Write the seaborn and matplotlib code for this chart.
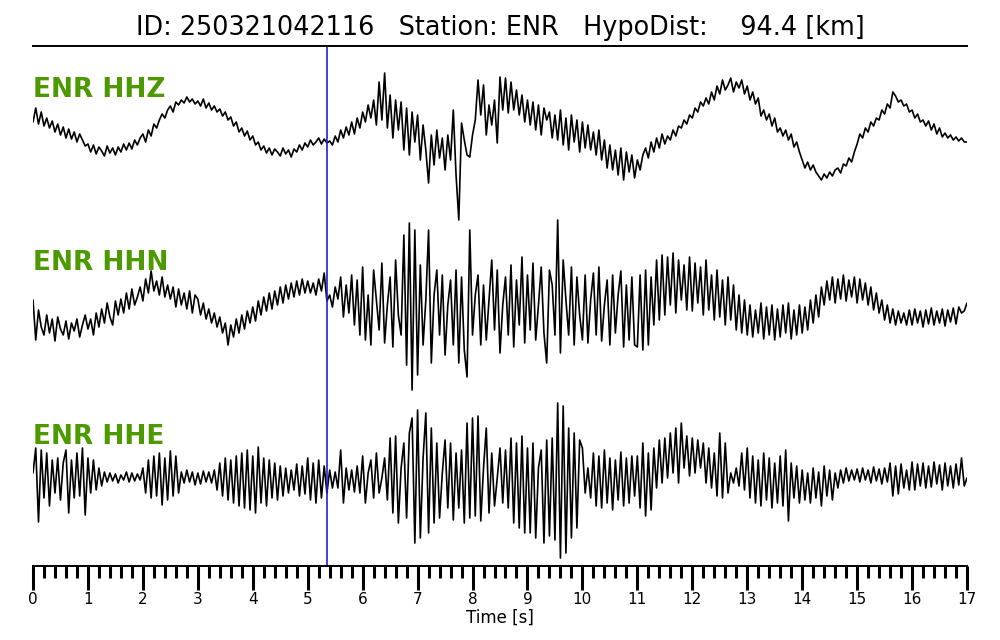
import numpy as np
import matplotlib
matplotlib.use("Agg")
import matplotlib.pyplot as plt
from matplotlib.ticker import MultipleLocator
import seaborn as sns

# event header
event_id = "250321042116"
station = "ENR"
hypo_dist = 94.4
p_pick = 5.35  # s
dt = 0.05  # sample interval [s]

channels = ["HHZ", "HHN", "HHE"]

# amplitudes (screen units, up positive), one row per second
hhz = [
    8, 22, 6, 18, 4, 12, 2, 9, -2, 6, -5, 3, -8, 1, -9, -2, -12, -4, -10, -16,
    -14, -22, -15, -24, -17, -21, -26, -16, -23, -18, -25, -17, -22, -14, -20, -13, -19, -10, -15, -8,
    -4, -12, 0, -6, 6, 2, 10, 16, 12, 20, 24, 18, 28, 25, 30, 27, 33, 28, 31, 26,
    29, 24, 31, 22, 27, 20, 24, 18, 21, 14, 18, 10, 13, 4, 8, -2, 2, -6, -1, -10,
    -6, -15, -12, -20, -16, -23, -18, -25, -19, -22, -26, -18, -24, -20, -27, -19, -22, -15, -20, -13,
    -17, -10, -15, -12, -8, -14, -9, -13, -11, -15, -6, -12, 0, -8, 3, -5, 8, -4, 12, 2,
    18, 8, 25, 12, 30, 5, 48, 10, 57, 2, 35, -8, 30, 0, 28, -20, 22, -25, 18, -12,
    15, -30, 5, -20, -53, -5, -35, 0, -28, -8, -40, -5, -30, 20, -45, -90, 7, -10, -25, -27,
    -5, 10, 50, 15, 45, -5, 25, 5, 30, -13, 53, 20, 52, 17, 48, 20, 40, 15, 35, 8,
    30, 5, 28, 0, 25, -5, 22, 10, 18, -8, 15, -10, 20, -15, 12, -20, 15, -12, 10, -22,
    8, -18, 5, -20, -2, -25, 0, -30, -10, -38, -15, -40, -20, -45, -18, -50, -22, -42, -25, -48,
    -30, -40, -25, -18, -28, -12, -22, -8, -18, -4, -14, -6, -10, 0, -6, 4, 2, 10, 6, 15,
    12, 22, 18, 28, 24, 32, 26, 38, 30, 44, 36, 50, 40, 45, 52, 38, 48, 42, 50, 36,
    44, 30, 38, 26, 32, 14, 20, 10, 16, 4, 12, -2, 2, -6, 0, -10, -4, -17, -12, -22,
    -30, -38, -32, -40, -35, -42, -46, -50, -44, -48, -42, -46, -40, -38, -43, -34, -36, -28, -32, -22,
    -14, -4, -8, 2, -2, 8, 4, 12, 10, 20, 16, 26, 22, 38, 34, 28, 30, 24, 26, 18,
    20, 12, 16, 8, 10, 4, 9, 0, 6, -4, 2, -7, -3, -8, -5, -10, -7, -11, -8, -12,
    -12,
]

hhn = [
    5, -35, -5, -22, -30, -10, -28, -14, -36, -12, -24, -30, -16, -34, -18, -26, -14, -32, -20, -10,
    -24, -14, -30, -8, -22, -4, -18, 2, -12, -20, 4, -10, 6, -8, 12, -4, 16, 0, 8, 18,
    4, 26, 12, 34, 14, 24, 10, 28, 8, 20, 6, 18, -2, 16, 0, 12, -4, 14, -8, 10,
    6, -10, 2, -14, -4, -18, -8, -22, -12, -28, -18, -40, -20, -32, -14, -28, -10, -24, -6, -18,
    -2, -16, 4, -10, 8, -6, 12, -4, 14, 0, 18, 2, 20, 6, 22, 8, 24, 10, 26, 12,
    24, 12, 22, 10, 26, 14, 32, 4, 10, -2, 18, 6, 28, -12, 20, -8, 30, -20, 25, -30,
    38, -35, 10, -40, 35, 5, -25, 42, -38, 0, 28, -42, 45, -10, -30, 70, -60, 82, -85, 75,
    -70, 40, -40, 5, 75, -58, 10, 35, -30, 30, -50, 0, 25, -40, 35, -58, 28, -45, -72, 75,
    -30, 10, 30, -40, 20, -35, 5, 45, -25, 35, -48, 0, 28, -30, 40, -42, 25, -20, 48, -38,
    30, -25, 42, -35, 0, 38, -28, -58, 35, 20, -30, 85, -48, 45, 5, -30, 38, -40, 28, -10,
    -35, 30, -38, 5, 32, -30, 38, -36, 0, 25, -40, 30, -28, 10, 34, -42, 20, -35, 28, -40,
    -42, 30, -45, 35, -40, 28, -20, 45, -15, 50, -10, 48, 0, 52, -8, 45, 5, 40, -5, 48,
    -6, 42, 2, 38, -10, 45, -5, 30, -15, 35, -12, 25, -20, 28, -15, 20, -25, 10, -28, 5,
    -30, 0, -32, -5, -28, 2, -34, -2, -30, 0, -35, -4, -32, 0, -28, 2, -34, -5, -30, 0,
    -28, -2, -25, 5, -18, 10, -12, 18, 0, 24, 5, 28, 2, 26, 6, 30, 4, 25, 8, 28,
    2, 26, 5, 22, 0, 18, -5, 12, -8, 5, -15, 0, -18, -4, -20, -6, -18, -8, -20, -5,
    -20, -4, -18, -6, -22, -5, -19, -3, -20, -6, -18, -4, -21, -5, -17, -3, -19, -2, -8, -6,
    2,
]

hhe = [
    5, 30, -44, 28, -20, 25, -28, 18, -15, 20, -22, 15, 28, -35, 18, -20, 25, -18, 30, -37,
    20, -15, 18, -12, 10, -8, 6, -4, 5, -3, 4, -5, 3, -2, 6, -4, 5, -3, 4, -2,
    10, -15, 18, -20, 22, -18, 25, -27, 20, -22, 27, -18, 22, -15, 6, -5, 8, -4, 6, -7,
    5, -6, 7, -4, 6, -5, 8, -12, 15, -18, 20, -22, 18, -25, 22, -28, 25, -30, 28, -32,
    22, -35, 31, -25, 20, -28, 18, -20, 15, -22, 12, -18, 10, -15, 8, -12, 14, -18, 12, -16,
    20, -22, 15, -25, 18, -20, 12, -15, 8, -10, 6, -10, 28, -25, 10, -12, 8, -14, 12, -15,
    22, -25, 5, 18, -20, 25, -15, 0, 20, -22, 40, -35, 42, -45, 10, 35, -40, 45, 60, -65,
    68, -60, 20, 65, -55, 50, -45, 35, -40, 5, 38, -30, 35, -42, 25, -30, 28, -45, 55, -40,
    60, -38, 62, -43, 10, 50, -35, 25, -28, 0, 30, -25, 28, -30, 40, -45, 35, -50, 42, -55,
    30, -55, 35, -60, 10, 28, -65, 38, -58, 40, -62, 75, -80, 72, -75, 50, -60, 45, -50, 38,
    30, -15, 10, -20, 25, -28, 22, -30, 28, -25, 20, -32, 18, -22, 26, -28, 20, -25, 22, -18,
    22, -30, 35, -38, 25, -32, 30, -10, 38, -5, 40, 0, 45, 5, 50, -5, 55, 10, 42, 2,
    40, 5, 38, 10, 35, -5, 30, -10, 25, -18, 45, -20, 35, -15, 5, -5, 10, -8, 25, -12,
    30, -20, 22, -25, 18, -28, 25, -22, 20, -30, 15, -25, 22, -28, 28, -43, 15, -20, 12, -25,
    8, -22, 5, -25, 10, -20, 6, -28, 12, -18, 8, -22, 5, -10, 8, -5, 10, -3, 8, -2,
    9, -4, 10, -2, 8, -5, 11, -3, 9, -6, 10, -4, 15, -18, 12, -16, 14, -10, 8, -12,
    16, -12, 14, -8, 15, -10, 12, -9, 16, -6, 13, -12, 15, -8, 12, -10, 14, -7, 20, -8,
    0,
]

traces = [hhz, hhn, hhe]
baselines = [130, 305, 478]      # trace centre lines, screen units
label_y = [90, 263, 437]
green = "#4c9a00"

sns.set_style("white")
plt.rcParams["font.family"] = ["DejaVu Sans"]
plt.rcParams["text.color"] = "black"
plt.rcParams["xtick.color"] = "black"

fig = plt.figure(figsize=(10, 6.4), dpi=100)
ax = fig.add_axes([33 / 1000, 74 / 640, 934 / 1000, 520 / 640])

for chan, amp, base, ly in zip(channels, traces, baselines, label_y):
    amp = np.asarray(amp, dtype=float)
    t = np.arange(len(amp)) * dt
    sns.lineplot(x=t, y=base - amp, ax=ax, color="black", lw=1.2, estimator=None)
    ax.text(0.0, ly, f"{station} {chan}", color=green, fontsize=19,
            fontweight="bold", ha="left", va="center")

ax.axvline(p_pick, color="#2020d0", lw=1.2)

ax.set_xlim(0, 17)
ax.set_ylim(566, 46)
ax.set_yticks([])
ax.set_ylabel("")
ax.set_xticks(range(18))
ax.xaxis.set_minor_locator(MultipleLocator(0.2))
ax.tick_params(axis="x", which="both", bottom=True, top=False, direction="out",
               colors="black")
ax.tick_params(axis="x", which="major", length=17, width=2.2,
               labelsize=11, pad=2)
ax.tick_params(axis="x", which="minor", length=8.5, width=2.2)
ax.set_xlabel("Time [s]", fontsize=12, labelpad=1, color="black")

for side in ["left", "right"]:
    ax.spines[side].set_visible(False)
for side in ["top", "bottom"]:
    ax.spines[side].set_linewidth(1.4)
    ax.spines[side].set_color("black")

fig.text(0.5, 1 - 28 / 640,
         f"ID: {event_id}   Station: {station}   HypoDist:    {hypo_dist} [km]",
         ha="center", va="center", fontsize=18.4, color="black")

fig.savefig("out.png", dpi=100)
